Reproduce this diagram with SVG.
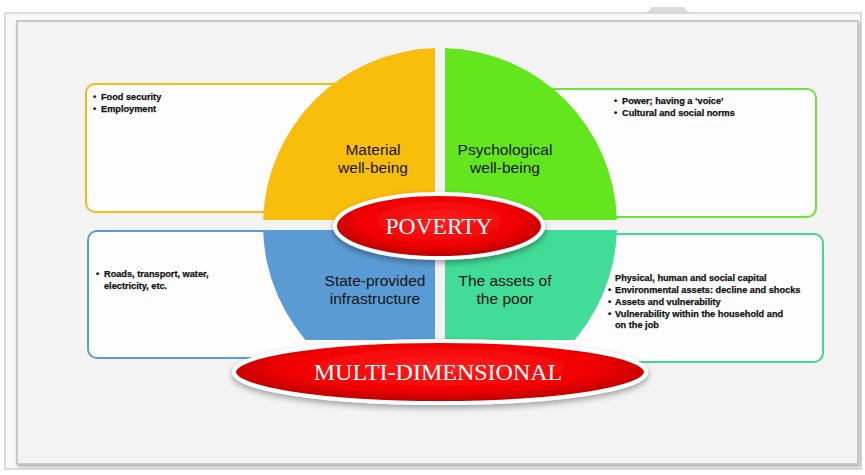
<svg xmlns="http://www.w3.org/2000/svg" width="865" height="475" viewBox="0 0 865 475">
<defs>
<style>
.box{fill:#fdfdfd;stroke-width:2}
.q{font-family:"Liberation Sans",Arial,sans-serif;font-size:15.5px;fill:#141414;text-anchor:middle}
.b{font-family:"Liberation Sans",Arial,sans-serif;font-size:9.2px;font-weight:bold;fill:#111;stroke:#111;stroke-width:0.25}
.title{font-family:"Liberation Serif","Times New Roman",serif;fill:#fff;text-anchor:middle}
</style>
<radialGradient id="red" cx="50%" cy="42%" r="58%">
<stop offset="0" stop-color="#ff2020"/>
<stop offset="0.65" stop-color="#f20000"/>
<stop offset="1" stop-color="#b40000"/>
</radialGradient>
<filter id="sh" x="-10%" y="-30%" width="120%" height="170%">
<feDropShadow dx="0" dy="3" stdDeviation="3" flood-color="#000" flood-opacity="0.35"/>
</filter>
<filter id="fsh" x="-5%" y="-5%" width="110%" height="110%">
<feDropShadow dx="1" dy="2" stdDeviation="1.5" flood-color="#000" flood-opacity="0.3"/>
</filter>
<clipPath id="cut"><rect x="0" y="0" width="865" height="340"/></clipPath>
</defs>
<rect width="865" height="475" fill="#ffffff"/>
<path d="M645,14 L652,7 L683,7 L690,14 Z" fill="#dcdcdc"/>
<g id="frame">
<rect x="5" y="13" width="856" height="456" fill="#f8f8f8" stroke="#d2d2d2" stroke-width="1.5"/>
<rect x="17" y="21" width="841" height="443" fill="#f3f3f3" stroke="#bcbcbc" stroke-width="1.5" filter="url(#fsh)"/>
</g>
<g id="box-material">
<rect class="box" x="86" y="84" width="330" height="128" rx="9" stroke="#f7ba12"/>
<text class="b" x="93" y="99.5">•</text><text class="b" x="101" y="99.5">Food security</text>
<text class="b" x="93" y="111.5">•</text><text class="b" x="101" y="111.5">Employment</text>
</g>
<g id="box-psychological">
<rect class="box" x="470" y="89" width="346" height="128" rx="9" stroke="#6be33a"/>
<text class="b" x="614" y="104">•</text><text class="b" x="622" y="104">Power; having a ‘voice’</text>
<text class="b" x="614" y="116">•</text><text class="b" x="622" y="116">Cultural and social norms</text>
</g>
<g id="box-infrastructure">
<rect class="box" x="88" y="231" width="330" height="127" rx="9" stroke="#5b9bd5"/>
<text class="b" x="96" y="277">•</text><text class="b" x="104" y="277">Roads, transport, water,</text>
<text class="b" x="104" y="288.5">electricity, etc.</text>
</g>
<g id="box-assets">
<rect class="box" x="470" y="234" width="353" height="128" rx="9" stroke="#43d69a"/>
<text class="b" x="615" y="281">Physical, human and social capital</text>
<text class="b" x="608" y="293">•</text><text class="b" x="615" y="293">Environmental assets: decline and shocks</text>
<text class="b" x="608" y="305">•</text><text class="b" x="615" y="305">Assets and vulnerability</text>
<text class="b" x="608" y="317">•</text><text class="b" x="615" y="317">Vulnerability within the household and</text>
<text class="b" x="615" y="328">on the job</text>
</g>
<g id="quadrant-material">
<path d="M435,220 L435,48.1 A177,177 0 0 0 263.1,220 Z" fill="#f9be0c"/>
<text class="q" x="373" y="155">Material</text>
<text class="q" x="373" y="173">well-being</text>
</g>
<g id="quadrant-psychological">
<path d="M445,220 L445,48.1 A177,177 0 0 1 616.9,220 Z" fill="#64e61f"/>
<text class="q" x="505" y="155">Psychological</text>
<text class="q" x="505" y="173">well-being</text>
</g>
<g id="quadrant-infrastructure" clip-path="url(#cut)">
<path d="M435,230 L435,401.9 A177,177 0 0 1 263.1,230 Z" fill="#5b9bd5"/>
<text class="q" x="375" y="286">State-provided</text>
<text class="q" x="375" y="304">infrastructure</text>
</g>
<g id="quadrant-assets" clip-path="url(#cut)">
<path d="M445,230 L445,401.9 A177,177 0 0 0 616.9,230 Z" fill="#41dc97"/>
<text class="q" x="505" y="286">The assets of</text>
<text class="q" x="505" y="304">the poor</text>
</g>
<g id="poverty">
<ellipse cx="439" cy="226" rx="104" ry="32" fill="url(#red)" stroke="#ffffff" stroke-width="4" filter="url(#sh)"/>
<text class="title" x="439" y="234" font-size="23.5">POVERTY</text>
</g>
<g id="multi-dimensional">
<ellipse cx="440" cy="372" rx="206" ry="31" fill="url(#red)" stroke="#ffffff" stroke-width="4" filter="url(#sh)"/>
<text class="title" x="438" y="380" font-size="24">MULTI-DIMENSIONAL</text>
</g>
<g id="connectors"/>
</svg>
